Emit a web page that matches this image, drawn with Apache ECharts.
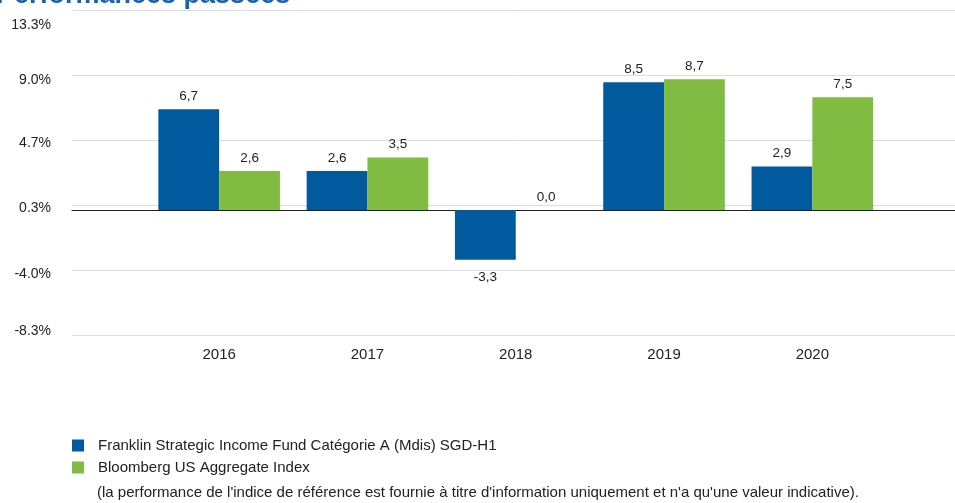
<!DOCTYPE html>
<html lang="fr">
<head>
    <meta charset="UTF-8">
    <title>Performances passées</title>
    <style>
        html, body { margin: 0; padding: 0; background: #fff; }
        #J-bar-chart-container { width: 955px; height: 503px; }
    </style>
</head>
<body>

<div id="J-bar-chart-container"></div>

<script src="https://cdn.jsdelivr.net/npm/echarts@6/dist/echarts.min.js"></script>
<script>
    var years = ['2016', '2017', '2018', '2019', '2020'];
    var fundValues = [6.7, 2.6, -3.3, 8.5, 2.9];
    var indexValues = [2.6, 3.5, 0.0, 8.7, 7.5];
    var yTickLabels = ['-8.3%', '-4.0%', '0.3%', '4.7%', '9.0%', '13.3%'];
    var fundName = 'Franklin Strategic Income Fund Catégorie A (Mdis) SGD-H1';
    var indexName = 'Bloomberg US Aggregate Index';
    var yMin = -8.3;
    var yMax = 13.3;

    var font = '"Liberation Sans", Arial, sans-serif';
    var chart = echarts.init(document.getElementById('J-bar-chart-container'));

    // the original nudges its tick labels off the grid lines a little (px, + = down)
    var tickNudge = [-4, 4, 3, 3, 5, 15];
    var tickRich = {};
    tickNudge.forEach(function (d, i) {
        tickRich['t' + i] = {
            fontSize: 14,
            color: '#222',
            fontFamily: font,
            padding: d >= 0 ? [2 * d, 0, 0, 0] : [0, 0, -2 * d, 0]
        };
    });

    function valueLabel(p) {
        return p.value.toFixed(1).replace('.', ',');
    }

    var option = {
        animation: false,
        textStyle: { fontFamily: font },
        graphic: [
            {
                type: 'text',
                left: -4,
                top: -18,
                style: {
                    text: 'Performances passées',
                    font: 'bold 27px ' + font,
                    fill: '#1763ad'
                }
            },
            {
                type: 'text',
                left: 97,
                top: 485,
                style: {
                    text: "(la performance de l'indice de référence est fournie à titre d'information uniquement et n'a qu'une valeur indicative).",
                    font: '15px ' + font,
                    fill: '#222'
                }
            }
        ],
        legend: {
            orient: 'vertical',
            left: 72,
            top: 438,
            padding: 0,
            itemWidth: 12,
            itemHeight: 12,
            itemGap: 7,
            icon: 'rect',
            data: [fundName, indexName],
            textStyle: {
                fontFamily: font,
                fontSize: 15,
                lineHeight: 15,
                color: '#222',
                padding: [0, 0, 0, 9]
            }
        },
        grid: [
            { left: 72, right: 0, top: 10, height: 325 },
            { left: 145, width: 741.5, top: 10, height: 325 }
        ],
        xAxis: [
            {
                gridIndex: 0,
                type: 'category',
                data: [''],
                axisLine: { show: true, onZero: true, onZeroAxisIndex: 1, lineStyle: { color: '#222', width: 1 } },
                axisTick: { show: false },
                axisLabel: { show: false }
            },
            {
                gridIndex: 1,
                type: 'category',
                data: years,
                axisLine: { show: false },
                axisTick: { show: false },
                axisLabel: { margin: 12, fontSize: 15, color: '#222', fontFamily: font }
            }
        ],
        yAxis: [
            {
                gridIndex: 0,
                type: 'value',
                min: 0,
                max: yTickLabels.length - 1,
                interval: 1,
                axisLine: { show: false },
                axisTick: { show: false },
                splitLine: { lineStyle: { color: '#dcdcdc', width: 1 } },
                axisLabel: {
                    margin: 21,
                    rich: tickRich,
                    formatter: function (v) {
                        var i = Math.round(v);
                        return '{t' + i + '|' + yTickLabels[i] + '}';
                    }
                }
            },
            {
                gridIndex: 0,
                type: 'value',
                min: yMin,
                max: yMax,
                show: false,
                splitLine: { show: false }
            },
            {
                gridIndex: 1,
                type: 'value',
                min: yMin,
                max: yMax,
                show: false,
                splitLine: { show: false }
            }
        ],
        series: [
            {
                name: fundName,
                type: 'bar',
                xAxisIndex: 1,
                yAxisIndex: 2,
                data: fundValues.map(function (v) {
                    // negative bars get their label underneath
                    return v < 0
                        ? { value: v, label: { position: 'bottom', distance: 11 } }
                        : { value: v };
                }),
                barGap: '0%',
                barCategoryGap: '18%',
                itemStyle: { color: '#005a9d' },
                label: {
                    show: true,
                    position: 'top',
                    distance: 6,
                    fontSize: 13.5,
                    color: '#222',
                    fontFamily: font,
                    formatter: valueLabel
                }
            },
            {
                name: indexName,
                type: 'bar',
                xAxisIndex: 1,
                yAxisIndex: 2,
                data: indexValues,
                barGap: '0%',
                barCategoryGap: '18%',
                itemStyle: { color: '#80bc41' },
                label: {
                    show: true,
                    position: 'top',
                    distance: 6,
                    fontSize: 13.5,
                    color: '#222',
                    fontFamily: font,
                    formatter: valueLabel
                }
            }
        ]
    };

    chart.setOption(option);
</script>
</body>
</html>
